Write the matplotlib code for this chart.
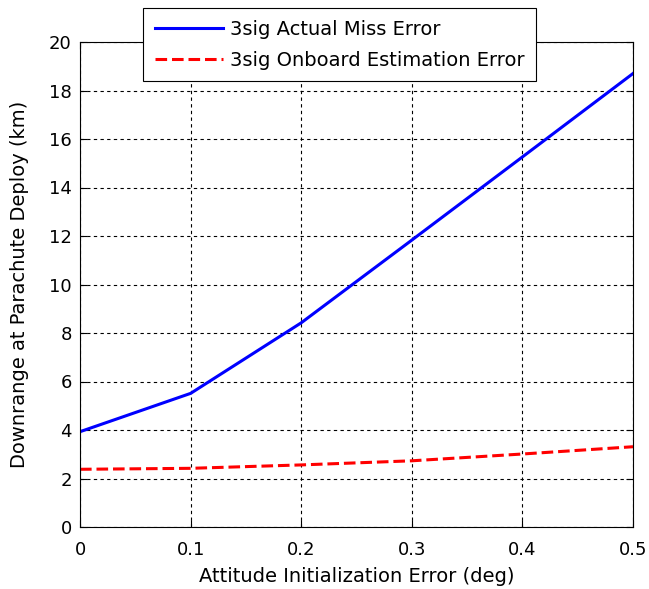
import matplotlib.pyplot as plt

# data
att_err = [0.0, 0.1, 0.2, 0.3, 0.4, 0.5]
actual_miss = [3.93, 5.51, 8.42, 11.83, 15.26, 18.7]
onboard_est = [2.38, 2.42, 2.56, 2.73, 3.01, 3.31]
x_ticks = [0, 0.1, 0.2, 0.3, 0.4, 0.5]
y_ticks = list(range(0, 21, 2))

plt.rcParams['font.family'] = ['DejaVu Sans']

fig = plt.figure(figsize=(6.49, 5.89), dpi=100)
ax = fig.add_axes([80/649, 62/589, 553/649, 485/589])

ax.plot(att_err, actual_miss, color='#0000ff', lw=2.2, label='3sig Actual Miss Error')
ax.plot(att_err, onboard_est, color='#ff0000', lw=2.2, linestyle=(0, (3.8, 1.6)),
        label='3sig Onboard Estimation Error')

ax.set_xlim(0, 0.5)
ax.set_ylim(0, 20)
ax.set_xticks(x_ticks)
ax.set_xticklabels(['0', '0.1', '0.2', '0.3', '0.4', '0.5'])
ax.set_yticks(y_ticks)
ax.tick_params(direction='in', labelsize=13, top=True, right=True, length=5, pad=6)
ax.tick_params(axis='x', pad=10)
ax.grid(True, color='black', linestyle=(0, (3, 3)), lw=0.8)
for s in ax.spines.values():
    s.set_linewidth(0.8)

ax.set_xlabel('Attitude Initialization Error (deg)', fontsize=14, labelpad=6)
ax.set_ylabel('Downrange at Parachute Deploy (km)', fontsize=14, labelpad=14)

leg = ax.legend(loc='upper left', bbox_to_anchor=(143/649, 1 - 8/589),
                bbox_transform=fig.transFigure, fontsize=14, fancybox=False,
                framealpha=1, edgecolor='black', handlelength=3.5,
                handletextpad=0.35, borderpad=0.6, labelspacing=0.62,
                borderaxespad=0)
leg.get_frame().set_linewidth(0.8)

fig.savefig('out.png', dpi=100)
